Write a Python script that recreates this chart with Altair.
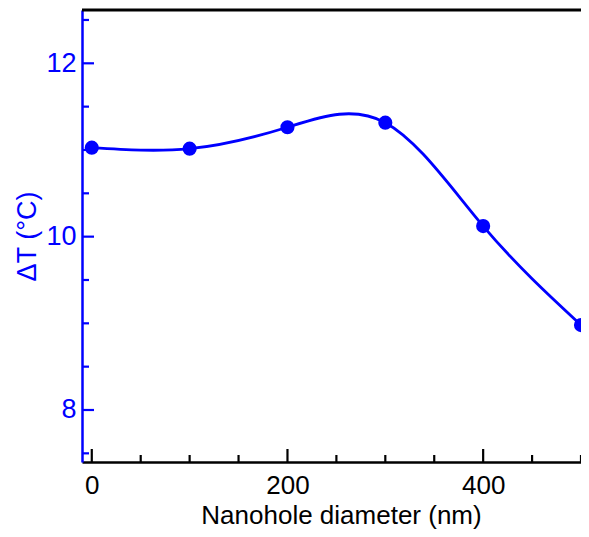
import altair as alt
import pandas as pd

diameter = [0, 100, 200, 300, 400, 500]
delta_t = [11.027, 11.015, 11.262, 11.315, 10.122, 8.98]
y_major = [8, 10, 12]
y_minor = [7.5, 8.5, 9, 9.5, 10.5, 11, 11.5, 12.5]
x_major = [0, 200, 400]
x_minor = [50, 100, 150, 250, 300, 350, 450, 500]

BLUE = "#0000ff"
FONT = "Liberation Sans"
W, H = 499, 452

df = pd.DataFrame({"d": diameter, "t": delta_t})
xs = alt.Scale(domain=[-10, 500], nice=False, zero=False)
ys = alt.Scale(domain=[7.40, 12.615], nice=False, zero=False)

x_axis = alt.Axis(values=x_major, ticks=False, grid=False, domainColor="black", domainWidth=2.5,
                  labelColor="black", labelFontSize=26, labelFont=FONT, labelPadding=10,
                  format="d",
                  title="Nanohole diameter (nm)", titleFont=FONT, titleFontSize=26,
                  titleFontWeight="normal", titleColor="black",
                  titleX=259, titleY=61, titleBaseline="alphabetic", titleAlign="center")
y_axis = alt.Axis(values=y_major, ticks=False, grid=False, domainColor=BLUE, domainWidth=2.5,
                  labelColor=BLUE, labelFontSize=27, labelFont=FONT, labelPadding=6,
                  format="d",
                  title="ΔT (°C)", titleFont=FONT, titleFontSize=27, titleFontWeight="normal",
                  titleColor=BLUE, titleX=-55, titleY=226, titleBaseline="middle",
                  titleAlign="center")

line = alt.Chart(df).mark_line(color=BLUE, strokeWidth=2.8, interpolate="natural").encode(
    x=alt.X("d:Q", scale=xs, axis=x_axis),
    y=alt.Y("t:Q", scale=ys, axis=y_axis),
)
pts = alt.Chart(df).mark_point(filled=True, color=BLUE, size=200, opacity=1).encode(
    x=alt.X("d:Q", scale=xs), y=alt.Y("t:Q", scale=ys)
)

def xticks(vals, length):
    return alt.Chart(pd.DataFrame({"v": vals})).mark_rule(color="black", strokeWidth=2.2).encode(
        x=alt.X("v:Q", scale=xs), y=alt.value(H), y2=alt.value(H - length)
    )

def yticks(vals, length):
    return alt.Chart(pd.DataFrame({"v": vals})).mark_rule(color=BLUE, strokeWidth=2.2).encode(
        y=alt.Y("v:Q", scale=ys), x=alt.value(0), x2=alt.value(length)
    )

top = alt.Chart(pd.DataFrame({"a": [0]})).mark_rule(color="black", strokeWidth=3).encode(
    x=alt.value(0), x2=alt.value(W), y=alt.value(0)
)

chart = alt.layer(
    top, xticks(x_major, 13), xticks(x_minor, 7), yticks(y_major, 12), yticks(y_minor, 7), line, pts
).properties(
    width=W, height=H,
    autosize=alt.AutoSizeParams(type="none"),
    padding={"left": 74, "top": 2, "right": 0, "bottom": 67},
).configure_view(stroke=None).configure(background="white")

chart.save("out.html", embed_options={"renderer": "svg", "actions": False})
